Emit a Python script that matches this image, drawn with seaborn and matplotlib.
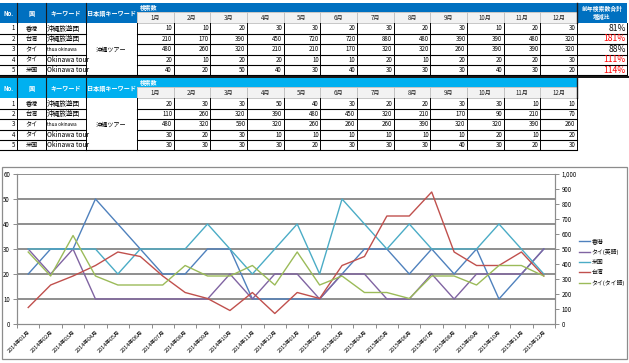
import matplotlib

matplotlib.use("Agg")

import matplotlib.pyplot as plt
import pandas as pd
import seaborn as sns
from matplotlib.patches import Rectangle
from matplotlib.ticker import FuncFormatter, MultipleLocator

# ---- data -------------------------------------------------------------
MONTHS = [f"{m}月" for m in range(1, 13)]
ROW_NO = ["1", "2", "3", "4", "5"]
COUNTRIES = ["香港", "台湾", "タイ", "タイ", "米国"]
# the Thai keyword (row 3) is written romanised: no installed font has Thai glyphs
KEYWORDS = ["沖縄旅遊団", "沖縄旅遊団", "thua okinawa", "Okinawa tour", "Okinawa tour"]
JP_KEYWORD = "沖縄ツアー"

# current year (table 1 / 2015 in chart)
HK_2015 = [10, 10, 20, 30, 30, 20, 30, 20, 30, 10, 20, 30]
TW_2015 = [210, 170, 390, 450, 720, 720, 880, 480, 390, 390, 480, 320]
TH_TH_2015 = [480, 260, 320, 210, 210, 170, 320, 320, 260, 390, 390, 320]
TH_EN_2015 = [20, 10, 20, 20, 10, 10, 20, 10, 20, 20, 20, 30]
US_2015 = [40, 20, 50, 40, 30, 40, 30, 30, 30, 40, 30, 20]

# previous year (table 2 / 2014 in chart)
HK_2014 = [20, 30, 30, 50, 40, 30, 20, 20, 30, 30, 10, 10]
TW_2014 = [110, 260, 320, 390, 480, 450, 320, 210, 170, 90, 210, 70]
TH_TH_2014 = [480, 320, 590, 320, 260, 260, 260, 390, 320, 320, 390, 260]
TH_EN_2014 = [30, 20, 30, 10, 10, 10, 10, 10, 10, 20, 10, 20]
US_2014 = [30, 30, 30, 30, 20, 30, 30, 30, 40, 30, 20, 30]

RATIO_LABELS = ["81%", "181%", "88%", "111%", "114%"]
RATIO_UP = [False, True, False, True, True]

CHART_MONTHS = [f"2014年{m:02d}月" for m in range(1, 13)] + [f"2015年{m:02d}月" for m in range(1, 13)]

JP = ["Noto Sans CJK JP", "DejaVu Sans"]
plt.rcParams["font.family"] = JP

DARK_BLUE = "#0070C0"
LIGHT_BLUE = "#00B0F0"


def draw_table(ax, top, header_color, rows, with_ratio):
    xs = [0, 17, 46, 86, 137] + [137 + 36.67 * i for i in range(1, 13)]
    head_bottom = top + 20
    strip_bottom = top + 8.5
    row_h = 10.4

    ax.add_patch(Rectangle((0, top), 137, 20, fc=header_color, ec="none"))
    ax.add_patch(Rectangle((137, top), xs[-1] - 137, strip_bottom - top, fc=header_color, ec="none"))
    ax.text(140, (top + strip_bottom) / 2, "検索数", color="white", fontsize=4.2, fontweight="bold",
            ha="left", va="center")
    for idx, lab in enumerate(["No.", "国", "キーワード", "日本語キーワード"]):
        ax.text((xs[idx] + xs[idx + 1]) / 2, (top + head_bottom) / 2, lab, color="white", fontsize=4.4,
                fontweight="bold", ha="center", va="center")
    for x in xs[1:4]:
        ax.plot([x, x], [top, head_bottom], color="#1a1a1a", lw=0.8)
    for i, m in enumerate(MONTHS):
        ax.add_patch(Rectangle((xs[4 + i], strip_bottom), xs[5 + i] - xs[4 + i], head_bottom - strip_bottom,
                               fc="#F2F2F2", ec="#BFBFBF", lw=0.6))
        ax.text((xs[4 + i] + xs[5 + i]) / 2, (strip_bottom + head_bottom) / 2, m, fontsize=4.4,
                ha="center", va="center", color="#222222")
    if with_ratio:
        ax.add_patch(Rectangle((577, top), 50, 20, fc=header_color, ec="none"))
        ax.text(602, top + 6, "前年検索数合計", color="white", fontsize=4.2, fontweight="bold",
                ha="center", va="center")
        ax.text(602, top + 14, "増減比", color="white", fontsize=4.2, fontweight="bold",
                ha="center", va="center")
    ax.plot([xs[-1], xs[-1]], [top, head_bottom], color="#1a1a1a", lw=1.0)

    right = 627 if with_ratio else xs[-1]
    for r in range(5):
        y0 = head_bottom + r * row_h
        yc = y0 + row_h / 2
        ax.text(xs[1] - 2, yc, ROW_NO[r], fontsize=4.4, ha="right", va="center")
        ax.text((xs[1] + xs[2]) / 2, yc, COUNTRIES[r], fontsize=4.4, ha="center", va="center")
        if r == 2:
            ax.text(xs[2] + 1, yc, KEYWORDS[r], fontsize=3.4, ha="left", va="center")
        else:
            ax.text(xs[2] + 1, yc, KEYWORDS[r], fontsize=4.8, ha="left", va="center")
        for i, v in enumerate(rows[r]):
            ax.text(xs[5 + i] - 1.5, yc, f"{v}", fontsize=4.4, ha="right", va="center")
        if with_ratio:
            ax.text(626, yc, RATIO_LABELS[r], fontsize=6.2, ha="right", va="center",
                    color="#FF0000" if RATIO_UP[r] else "#111111")
        ax.plot([0, xs[3]], [y0 + row_h, y0 + row_h], color="black", lw=0.8)
        ax.plot([xs[4], right], [y0 + row_h, y0 + row_h], color="black", lw=0.8)
    bottom = head_bottom + 5 * row_h
    ax.plot([xs[3], xs[4]], [bottom, bottom], color="black", lw=0.8)
    for x in xs[1:]:
        ax.plot([x, x], [head_bottom, bottom], color="black", lw=0.7)
    if with_ratio:
        ax.plot([627, 627], [head_bottom, bottom], color="black", lw=0.7)
    ax.text((xs[3] + xs[4]) / 2, (head_bottom + bottom) / 2, JP_KEYWORD, fontsize=4.4,
            ha="center", va="center")


def main():
    fig = plt.figure(figsize=(6.29, 3.63), dpi=100)
    fig.patch.set_facecolor("white")

    canvas = fig.add_axes([0, 0, 1, 1])
    canvas.set_xlim(0, 629)
    canvas.set_ylim(363, 0)
    canvas.axis("off")

    draw_table(canvas, 3.3, DARK_BLUE, [HK_2015, TW_2015, TH_TH_2015, TH_EN_2015, US_2015], True)
    canvas.plot([0, 629], [76.6, 76.6], color="black", lw=1.3)
    draw_table(canvas, 78.3, LIGHT_BLUE, [HK_2014, TW_2014, TH_TH_2014, TH_EN_2014, US_2014], False)

    # chart frame
    canvas.add_patch(Rectangle((2, 166.5), 624.5, 192, fc="white", ec="#8C8C8C", lw=0.9))

    df = pd.DataFrame({
        "month": list(range(24)) * 5,
        "value": HK_2014 + HK_2015 + TH_EN_2014 + TH_EN_2015 + US_2014 + US_2015
        + TW_2014 + TW_2015 + TH_TH_2014 + TH_TH_2015,
        "series": ["香港"] * 24 + ["タイ(英語)"] * 24 + ["米国"] * 24 + ["台湾"] * 24 + ["タイ(タイ語)"] * 24,
    })
    palette = {"香港": "#4F81BD", "タイ(英語)": "#8064A2", "米国": "#4BACC6",
               "台湾": "#C0504D", "タイ(タイ語)": "#9BBB59"}

    W, H = 629, 363
    ax = fig.add_axes([17 / W, (H - 324) / H, (555 - 17) / W, (324 - 174) / H])
    ax.set_facecolor("none")
    ax2 = ax.twinx()

    left = df[df["series"].isin(["香港", "タイ(英語)", "米国"])]
    right = df[df["series"].isin(["台湾", "タイ(タイ語)"])]
    sns.lineplot(data=left, x="month", y="value", hue="series", palette=palette, lw=1.0, ax=ax,
                 legend=False, sort=False)
    sns.lineplot(data=right, x="month", y="value", hue="series", palette=palette, lw=1.0, ax=ax2,
                 legend=False, sort=False)

    ax.set_xlim(-0.5, 23.5)
    ax.set_ylim(0, 60)
    ax2.set_ylim(0, 1000)
    ax.yaxis.set_major_locator(MultipleLocator(10))
    ax2.yaxis.set_major_locator(MultipleLocator(100))
    ax2.yaxis.set_major_formatter(FuncFormatter(lambda v, p: f"{int(v):,}"))
    for y in range(10, 61, 10):
        ax.axhline(y, color="#8E8E8E", lw=1.4, zorder=0)

    ax.set_xticks(range(24))
    ax.set_xticklabels(CHART_MONTHS, rotation=45, ha="right", va="top", rotation_mode="anchor", fontsize=4.0)
    ax.set_xticks([i - 0.5 for i in range(25)], minor=True)
    ax.tick_params(axis="x", which="major", length=0, pad=4)
    ax.tick_params(axis="x", which="minor", length=3, color="#8C8C8C", width=0.7)
    ax.tick_params(axis="y", length=3, color="#8C8C8C", width=0.7, labelsize=4.4, pad=2)
    ax2.tick_params(axis="y", length=3, color="#8C8C8C", width=0.7, labelsize=4.4, pad=2)
    for a in (ax, ax2):
        a.set_xlabel("")
        a.set_ylabel("")
        for sp in a.spines.values():
            sp.set_color("#8C8C8C")
            sp.set_linewidth(0.8)
        a.spines["top"].set_visible(False)

    order = ["香港", "タイ(英語)", "米国", "台湾", "タイ(タイ語)"]
    handles = [plt.Line2D([], [], color=palette[k], lw=1.0) for k in order]
    fig.legend(handles, order, loc="center left", bbox_to_anchor=(579 / W, 1 - 262 / H),
               frameon=False, fontsize=4.2, handlelength=1.8, handletextpad=0.4, labelspacing=0.85,
               borderpad=0, borderaxespad=0)

    fig.savefig("out.png", dpi=100, facecolor="white")
    plt.close(fig)


if __name__ == "__main__":
    main()
